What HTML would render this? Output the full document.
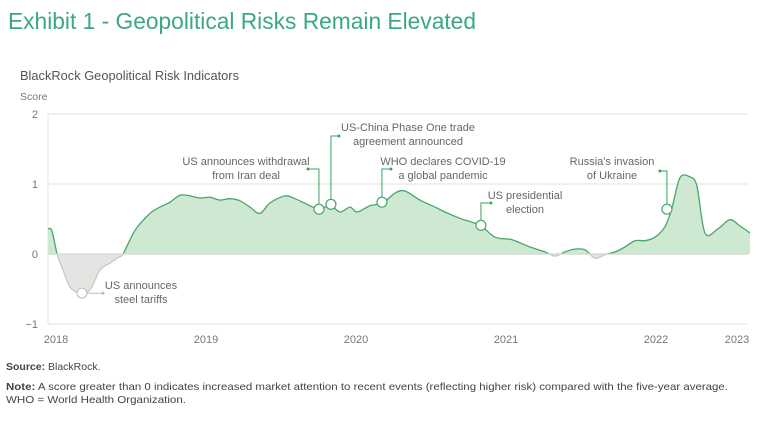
<!DOCTYPE html>
<html><head><meta charset="utf-8"><style>
body{margin:0;background:#fff;}
svg{display:block;font-family:"Liberation Sans",sans-serif;}
</style></head><body>
<svg id="chart" width="768" height="426" viewBox="0 0 768 426">
<text x="8" y="29" font-size="23" fill="#3aa883" textLength="468" lengthAdjust="spacingAndGlyphs">Exhibit 1 - Geopolitical Risks Remain Elevated</text>
<text x="20" y="80" font-size="12.5" fill="#555" textLength="219" lengthAdjust="spacingAndGlyphs">BlackRock Geopolitical Risk Indicators</text>
<text x="20" y="100" font-size="10.5" fill="#777">Score</text>
<g id="grid"></g><g id="plot"></g><g id="ann"></g>
<text x="6" y="370" font-size="10.5" fill="#444"><tspan font-weight="bold">Source:</tspan> BlackRock.</text>
<text x="6" y="390" font-size="10.5" fill="#444" textLength="722" lengthAdjust="spacingAndGlyphs"><tspan font-weight="bold">Note:</tspan> A score greater than 0 indicates increased market attention to recent events (reflecting higher risk) compared with the five-year average.</text>
<text x="6" y="403" font-size="10.5" fill="#444" textLength="180" lengthAdjust="spacingAndGlyphs">WHO = World Health Organization.</text>
</svg>
<script>
const yTicks=[2,1,0,-1];
const yearLabels=["2018","2019","2020","2021","2022","2023"];
const yearPos=[2018,2019,2020,2021,2022,2022.54];
const dates=[2017.947,2017.973,2018.007,2018.04,2018.093,2018.16,2018.227,2018.293,2018.36,2018.413,2018.447,2018.527,2018.627,2018.693,2018.76,2018.827,2018.893,2018.96,2019.027,2019.093,2019.16,2019.227,2019.293,2019.36,2019.427,2019.527,2019.593,2019.693,2019.76,2019.827,2019.893,2019.96,2020.007,2020.093,2020.18,2020.26,2020.327,2020.427,2020.527,2020.593,2020.693,2020.827,2020.927,2021.027,2021.093,2021.16,2021.26,2021.327,2021.393,2021.46,2021.527,2021.593,2021.66,2021.727,2021.793,2021.86,2021.927,2021.993,2022.06,2022.107,2022.16,2022.227,2022.273,2022.327,2022.413,2022.493,2022.56,2022.627];
const values=[0.36,0.33,0,-0.19,-0.47,-0.56,-0.51,-0.23,-0.13,-0.05,0,0.34,0.58,0.67,0.74,0.84,0.83,0.8,0.81,0.77,0.79,0.76,0.67,0.58,0.73,0.83,0.79,0.69,0.63,0.7,0.6,0.67,0.6,0.69,0.73,0.87,0.9,0.77,0.67,0.6,0.51,0.41,0.24,0.21,0.16,0.1,0.03,-0.03,0.03,0.07,0.06,-0.06,-0.01,0.03,0.1,0.19,0.19,0.24,0.39,0.66,1.09,1.1,0.97,0.3,0.36,0.49,0.4,0.3];
const eventLabels=[["US announces","steel tariffs"],["US announces withdrawal","from Iran deal"],["US-China Phase One trade","agreement announced"],["WHO declares COVID-19","a global pandemic"],["US presidential","election"],["Russia's invasion","of Ukraine"]];
const eventDates=[2018.173,2019.753,2019.833,2020.173,2020.833,2022.073];
const eventValues=[-0.56,0.64,0.71,0.74,0.41,0.64];

const NS="http://www.w3.org/2000/svg";
const X0=48,X1=748;
const x=d=>56+(d-2018)*150;
const y=v=>254-v*70;
function mk(tag,attrs,parent){const e=document.createElementNS(NS,tag);for(const k in attrs)e.setAttribute(k,attrs[k]);parent.appendChild(e);return e;}
const grid=document.getElementById('grid'),plot=document.getElementById('plot'),ann=document.getElementById('ann'),svg=document.getElementById('chart');
mk('line',{x1:X0,y1:114,x2:X0,y2:324,stroke:'#e4e4e4'},grid);
yTicks.forEach(t=>{
 const l=mk('line',{x1:X0,x2:X1,y1:y(t),y2:y(t),stroke:t===0?'#d6d6d6':'#e8e8e8','stroke-width':1.2},grid);
 
 
 const tx=mk('text',{x:38,y:y(t)+4,'text-anchor':'end','font-size':11,fill:'#777'},grid);
 tx.textContent=t<0?'\u2212'+Math.abs(t):String(t);
 
 
});
yearLabels.forEach((lab,i)=>{
 const tx=mk('text',{x:x(yearPos[i]),y:343,'text-anchor':'middle','font-size':11,fill:'#777'},grid);
 tx.textContent=lab;
 
 
});
const defs=mk('defs',{},svg);
const cu=mk('clipPath',{id:'above'},defs);mk('rect',{x:0,y:0,width:768,height:y(0)},cu);
const cd=mk('clipPath',{id:'below'},defs);mk('rect',{x:0,y:y(0),width:768,height:200},cd);
const P=dates.map((d,i)=>[x(d),y(values[i])]);
let line='M'+P[0][0].toFixed(1)+','+P[0][1].toFixed(1);
for(let i=0;i<P.length-1;i++){
 const p0=P[Math.max(0,i-1)],p1=P[i],p2=P[i+1],p3=P[Math.min(P.length-1,i+2)];
 const k=1/6;
 const c1=[p1[0]+(p2[0]-p0[0])*k,p1[1]+(p2[1]-p0[1])*k];
 const c2=[p2[0]-(p3[0]-p1[0])*k,p2[1]-(p3[1]-p1[1])*k];
 line+=`C${c1[0].toFixed(1)},${c1[1].toFixed(1)} ${c2[0].toFixed(1)},${c2[1].toFixed(1)} ${p2[0].toFixed(1)},${p2[1].toFixed(1)}`;
}
const area=line+'L'+x(dates[dates.length-1])+','+y(0)+'L'+x(dates[0])+','+y(0)+'Z';
const a1=mk('path',{d:area,fill:'#cfe8d2','clip-path':'url(#above)'},plot);


const a2=mk('path',{d:area,fill:'#e6e4e2','clip-path':'url(#below)'},plot);


const l1=mk('path',{d:line,fill:'none',stroke:'#45a86a','stroke-width':1.3,'stroke-linejoin':'round','clip-path':'url(#above)'},plot);


const l2=mk('path',{d:line,fill:'none',stroke:'#c8c4c0','stroke-width':1.2,'clip-path':'url(#below)'},plot);


mk('line',{x1:X0,x2:X1,y1:y(0),y2:y(0),stroke:'#d6d6d6','stroke-width':1.2},plot);
const lay=[[null,21,141,289],[169,-11,246,165],[136,8,408,131],[169,9,443,165],[203,10,525,199],[171,-7,612,165]];
eventDates.forEach((d,i)=>{
 const px=x(d),py=y(eventValues[i]),L=lay[i];
 const g=mk('g',{},ann);
 
 
 const col=i===0?'#c8b8b0':'#3aa35f';
 if(L[0]===null){mk('line',{x1:px,y1:py,x2:px+L[1],y2:py,stroke:col},g);mk('circle',{cx:px+L[1],cy:py,r:1.5,fill:col},g);}
 else{mk('polyline',{points:`${px},${py} ${px},${L[0]} ${px+L[1]},${L[0]}`,fill:'none',stroke:col},g);mk('circle',{cx:px+L[1],cy:L[0],r:1.5,fill:col},g);}
 const c=mk('circle',{cx:px,cy:py,r:5,fill:'#fff',stroke:i===0?'#c8c4c0':'#45a86a','stroke-width':1.2},g);
 
 
 eventLabels[i].forEach((s,j)=>{
  const t=mk('text',{x:L[2],y:L[3]+j*14,'text-anchor':'middle','font-size':11,fill:'#666'},g);
  t.textContent=s;
  
  
 });
});
</script>
</body></html>
